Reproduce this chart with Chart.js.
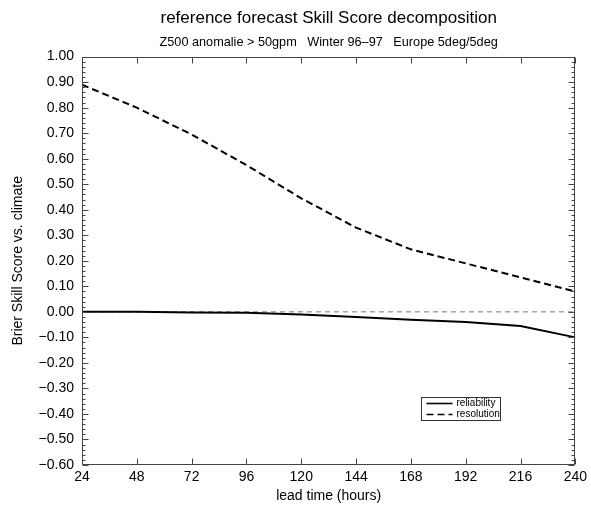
<!DOCTYPE html>
<html>
<head>
<meta charset="utf-8">
<script src="https://cdn.jsdelivr.net/npm/chart.js@4.4.1/dist/chart.umd.min.js"></script>
<style>
  html, body { margin: 0; padding: 0; background: #fff; }
  canvas { display: block; }
</style>
</head>
<body>
<canvas id="chart" width="591" height="506"></canvas>
<script>
// lead times and the two skill score components
const leadTimes = [24, 48, 72, 96, 120, 144, 168, 192, 216, 240];
const reliability = [0.000, 0.000, -0.002, -0.003, -0.010, -0.020, -0.031, -0.040, -0.055, -0.100];
const resolution = [0.890, 0.800, 0.695, 0.575, 0.445, 0.330, 0.245, 0.190, 0.135, 0.080];
const zeroLine = [0, 0];
const zeroHours = [24, 240];

const FONT = "'Liberation Sans', Arial, Helvetica, sans-serif";

function pts(xs, ys) {
    return xs.map((x, i) => ({ x: x, y: ys[i] }));
}

function fmt(v) {
    const s = Math.abs(v).toFixed(2);
    return v < -0.0001 ? '\u2212' + s : s;
}

// frame with inward ticks, like the original plot
const frameTicks = {
    id: 'frameTicks',
    afterDatasetsDraw(chart) {
        const { ctx, chartArea: a, scales: { x, y } } = chart;
        const L = Math.round(a.left) + 0.5, R = Math.round(a.right) - 0.5;
        const T = Math.round(a.top) + 0.5, B = Math.round(a.bottom) - 0.5;
        ctx.save();
        ctx.strokeStyle = '#444';
        ctx.lineWidth = 1;
        ctx.beginPath();
        ctx.rect(L, T, R - L, B - T);
        for (let i = 0; i <= 80; i++) {
            const v = -0.6 + i * 0.02;
            const py = Math.round(y.getPixelForValue(v)) + 0.5;
            const len = i % 5 === 0 ? 6 : 3;
            ctx.moveTo(L, py); ctx.lineTo(L + len, py);
            ctx.moveTo(R, py); ctx.lineTo(R - len, py);
        }
        leadTimes.forEach(h => {
            const px = Math.round(x.getPixelForValue(h)) + 0.5;
            ctx.moveTo(px, B); ctx.lineTo(px, B - 6);
            ctx.moveTo(px, T); ctx.lineTo(px, T + 6);
        });
        ctx.stroke();
        ctx.restore();
    },
    afterDraw(chart) {
        // small boxed legend inside the plot
        const { ctx, chartArea: a } = chart;
        const bx = Math.round(a.right) - 153.5, by = Math.round(a.bottom) - 67.5;
        ctx.save();
        ctx.strokeStyle = '#333';
        ctx.lineWidth = 1;
        ctx.strokeRect(bx, by, 79, 23);
        ctx.font = '10px ' + FONT;
        ctx.fillStyle = '#000';
        ctx.textBaseline = 'middle';
        const rows = [chart.data.datasets[0], chart.data.datasets[1]];
        rows.forEach((ds, i) => {
            const ly = by + 6 + i * 11;
            ctx.strokeStyle = '#000';
            ctx.lineWidth = 1.6;
            ctx.setLineDash(ds.borderDash || []);
            ctx.beginPath();
            ctx.moveTo(bx + 5, ly); ctx.lineTo(bx + 31, ly);
            ctx.stroke();
            ctx.setLineDash([]);
            ctx.fillText(ds.label, bx + 35, ly);
        });
        ctx.restore();
    }
};

const ctx = document.getElementById('chart').getContext('2d');
const chart = new Chart(ctx, {
    type: 'line',
    data: {
        datasets: [
            {
                label: 'reliability',
                data: pts(leadTimes, reliability),
                borderColor: '#000',
                borderWidth: 2,
                pointRadius: 0,
                tension: 0,
                fill: false,
                order: 1
            },
            {
                label: 'resolution',
                data: pts(leadTimes, resolution),
                borderColor: '#000',
                borderWidth: 2,
                borderDash: [7, 4],
                pointRadius: 0,
                tension: 0,
                fill: false,
                order: 1
            },
            {
                label: 'zero',
                data: pts(zeroHours, zeroLine),
                borderColor: '#777',
                borderWidth: 1,
                borderDash: [5, 4],
                pointRadius: 0,
                fill: false,
                order: 2
            }
        ]
    },
    options: {
        responsive: false,
        devicePixelRatio: 1,
        animation: false,
        layout: { padding: { left: 0, right: 14, top: 0, bottom: 0 } },
        plugins: {
            legend: { display: false },
            tooltip: { enabled: false },
            title: {
                display: true,
                text: 'reference forecast Skill Score decomposition',
                fullSize: false,
                color: '#000',
                font: { family: FONT, size: 17, weight: 'normal' },
                padding: { top: 8, bottom: 3 }
            },
            subtitle: {
                display: true,
                text: 'Z500 anomalie > 50gpm   Winter 96\u201397   Europe 5deg/5deg',
                fullSize: false,
                color: '#000',
                font: { family: FONT, size: 12.7, weight: 'normal' },
                padding: { top: 3, bottom: 7 }
            }
        },
        scales: {
            x: {
                type: 'linear',
                min: 24,
                max: 240,
                grid: { display: false, drawTicks: false },
                border: { display: false },
                ticks: {
                    stepSize: 24,
                    padding: 4,
                    color: '#000',
                    font: { family: FONT, size: 14 },
                    maxRotation: 0
                },
                title: {
                    display: true,
                    text: 'lead time (hours)',
                    color: '#000',
                    font: { family: FONT, size: 14 },
                    padding: { top: 0, bottom: 1 }
                },
                afterFit: s => { s.height = 41; }
            },
            y: {
                min: -0.6,
                max: 1.0,
                grid: { display: false, drawTicks: false },
                border: { display: false },
                ticks: {
                    stepSize: 0.1,
                    padding: 8,
                    color: '#000',
                    font: { family: FONT, size: 14 },
                    callback: v => fmt(v)
                },
                title: {
                    display: true,
                    text: 'Brier Skill Score vs. climate',
                    color: '#000',
                    font: { family: FONT, size: 14 },
                    padding: { top: 10, bottom: 0 }
                },
                afterFit: s => { s.width = 82; }
            }
        }
    },
    plugins: [frameTicks]
});
</script>
</body>
</html>
